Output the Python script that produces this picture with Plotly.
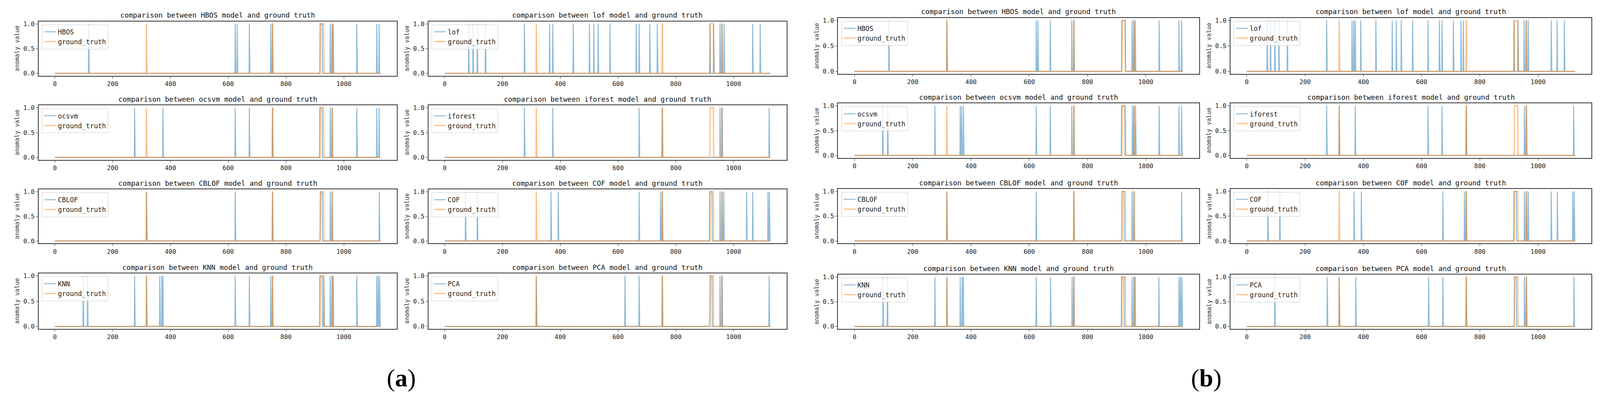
import plotly.graph_objects as go

# ---------------- data (anomaly indices) ----------------
N_POINTS = 1128
X_TICKS = [0, 200, 400, 600, 800, 1000]
Y_TICKS = [0.0, 0.5, 1.0]
Y_TICK_TEXT = ["0.0", "0.5", "1.0"]
MODELS = ["HBOS", "lof", "ocsvm", "iforest", "CBLOF", "COF", "KNN", "PCA"]
PANELS = ["a", "b"]

GROUND_TRUTH = [317, 753, 754, 919, 920, 921, 922, 923, 924, 925, 926, 927, 928,
                929, 930, 959, 960]

# panel (a)
HBOS_A = [117, 624, 631, 673, 747, 753, 918, 919, 920, 921, 922, 923, 924, 925,
          953, 960, 964, 1045, 1114, 1122]
LOF_A = [83, 98, 113, 141, 276, 363, 374, 445, 501, 516, 531, 572, 663, 673, 710,
         736, 918, 931, 953, 960, 967, 1066, 1092]
OCSVM_A = [276, 374, 624, 673, 753, 917, 918, 919, 920, 921, 922, 923, 924, 925,
           953, 960, 1045, 1114, 1122]
IFOREST_A = [276, 374, 673, 753, 953, 960, 1123]
CBLOF_A = [317, 624, 753, 919, 920, 921, 922, 923, 924, 925, 953, 960, 1123]
COF_A = [72, 113, 368, 393, 673, 747, 753, 917, 918, 919, 920, 921, 922, 923, 924,
         925, 953, 960, 966, 1045, 1066, 1119, 1124]
KNN_A = [98, 113, 276, 317, 363, 370, 374, 624, 673, 747, 753, 917, 918, 919, 920,
         921, 922, 923, 924, 925, 931, 953, 960, 964, 1045, 1114, 1119, 1124]
PCA_A = [317, 624, 673, 753, 919, 920, 921, 922, 923, 924, 925, 953, 960, 1123]

# panel (b)
HBOS_B = [118, 317, 624, 630, 672, 746, 753, 918, 919, 920, 921, 922, 923, 924, 925,
          926, 927, 928, 929, 953, 959, 964, 1046, 1114, 1123]
LOF_B = [70, 81, 96, 110, 139, 274, 361, 367, 372, 391, 443, 499, 513, 530, 569, 622,
         661, 670, 709, 735, 743, 917, 931, 952, 959, 966, 1045, 1065, 1090]
OCSVM_B = [97, 114, 276, 363, 368, 374, 624, 672, 746, 753, 917, 918, 919, 920, 921,
           922, 923, 924, 925, 926, 927, 928, 954, 960, 965, 1046, 1114, 1123]
IFOREST_B = [274, 317, 372, 622, 670, 753, 953, 960, 1122]
CBLOF_B = [317, 624, 753, 919, 920, 921, 922, 923, 924, 925, 953, 960, 1123]
COF_B = [72, 113, 368, 393, 673, 747, 753, 917, 918, 919, 920, 921, 922, 923, 924,
         925, 953, 960, 966, 1045, 1066, 1119, 1124]
KNN_B = [98, 113, 276, 317, 363, 370, 374, 624, 673, 747, 753, 917, 918, 919, 920,
         921, 922, 923, 924, 925, 953, 960, 964, 1045, 1114, 1119, 1124]
PCA_B = [96, 276, 317, 374, 624, 673, 753, 919, 920, 921, 922, 923, 924, 925, 953,
         960, 1123]

SERIES = {
    "a": [HBOS_A, LOF_A, OCSVM_A, IFOREST_A, CBLOF_A, COF_A, KNN_A, PCA_A],
    "b": [HBOS_B, LOF_B, OCSVM_B, IFOREST_B, CBLOF_B, COF_B, KNN_B, PCA_B],
}

# ---------------- layout geometry (reference pixels) ----------------
W, H = 4351, 1033
COLS = {"a": [(105, 1079), (1165, 2139)], "b": [(2279, 3261), (3346, 4328)]}
ROWS = {"a": [(52, 192), (268, 408), (484, 623), (700, 843)],
        "b": [(43, 187), (263, 403), (483, 623), (703, 843)]}
PANEL_LABEL_X = {"a": 1091, "b": 3280}
PANEL_LABEL_Y = 969

BLUE = "rgba(31,119,180,0.5)"
ORANGE = "rgba(255,127,14,0.5)"
MONO = "DejaVu Sans Mono"


def px(x):
    return x / W


def py(y):
    return 1 - y / H


def to_series(indices):
    s = set(indices)
    return [1 if i in s else 0 for i in range(N_POINTS)]


xs = list(range(N_POINTS))
gt = to_series(GROUND_TRUTH)

fig = go.Figure()
layout = dict(
    autosize=True, margin=dict(l=0, r=0, t=0, b=0, pad=0),
    paper_bgcolor="white", plot_bgcolor="white", showlegend=True,
    font=dict(family=MONO, size=15, color="#222"),
)
annotations = []

k = 0
for panel in PANELS:
    for m, model in enumerate(MODELS):
        k += 1
        row, col = divmod(m, 2)
        x0, x1 = COLS[panel][col]
        y0, y1 = ROWS[panel][row]
        xa = "x" if k == 1 else f"x{k}"
        ya = "y" if k == 1 else f"y{k}"
        lg = "legend" if k == 1 else f"legend{k}"
        fig.add_trace(go.Scatter(x=xs, y=to_series(SERIES[panel][m]), mode="lines",
                                 name=model, line=dict(color=BLUE, width=2.5),
                                 xaxis=xa, yaxis=ya, legend=lg, hoverinfo="skip"))
        fig.add_trace(go.Scatter(x=xs, y=gt, mode="lines", name="ground_truth",
                                 line=dict(color=ORANGE, width=3),
                                 xaxis=xa, yaxis=ya, legend=lg, hoverinfo="skip"))
        axcommon = dict(showline=True, mirror=True, linecolor="#333", linewidth=2,
                        ticks="outside", ticklen=5, tickwidth=1, tickcolor="#333",
                        showgrid=False, zeroline=False,
                        tickfont=dict(family=MONO, size=16, color="#222"))
        layout["xaxis" if k == 1 else f"xaxis{k}"] = dict(
            domain=[px(x0), px(x1)], range=[-56.35, 1183.35], tickvals=X_TICKS,
            anchor=ya, **axcommon)
        layout["yaxis" if k == 1 else f"yaxis{k}"] = dict(
            domain=[py(y1), py(y0)], range=[-0.05, 1.05], tickvals=Y_TICKS,
            ticktext=Y_TICK_TEXT, anchor=xa, **axcommon)
        layout[lg] = dict(x=px(x0 + 9), y=py(y0 + 8), xanchor="left", yanchor="top",
                          bgcolor="rgba(255,255,255,0.8)", bordercolor="#cccccc",
                          borderwidth=1, font=dict(family=MONO, size=17, color="#222"),
                          itemwidth=30)
        annotations.append(dict(
            text=f"comparison between {model} model and ground truth",
            x=px((x0 + x1) / 2), y=py(y0 - 16), xref="paper", yref="paper",
            xanchor="center", yanchor="middle", showarrow=False,
            font=dict(family=MONO, size=18, color="#111")))
        annotations.append(dict(
            text="anomaly value", textangle=-90,
            x=px(x0 - 58), y=py((y0 + y1) / 2), xref="paper", yref="paper",
            xanchor="center", yanchor="middle", showarrow=False,
            font=dict(family=MONO, size=15, color="#333")))
    annotations.append(dict(
        text=f"(<b>{panel}</b>)", x=px(PANEL_LABEL_X[panel]), y=py(PANEL_LABEL_Y),
        xref="paper", yref="paper", xanchor="center", yanchor="middle",
        showarrow=False, font=dict(family="Liberation Serif", size=64, color="black")))

layout["annotations"] = annotations
fig.update_layout(**layout)

POST = (
    "document.documentElement.style.margin='0';"
    "document.documentElement.style.height='100%';"
    "document.body.style.margin='0';"
    "document.body.style.height='100%';"
    "document.body.style.overflow='hidden';"
    "var gd=document.getElementById('{plot_id}');"
    "gd.style.width='100vw';gd.style.height='100vh';"
    "Plotly.Plots.resize(gd);"
)
fig.write_html("out.html", default_width="100vw", default_height="100vh",
               config={"responsive": True, "displayModeBar": False},
               post_script=POST)
